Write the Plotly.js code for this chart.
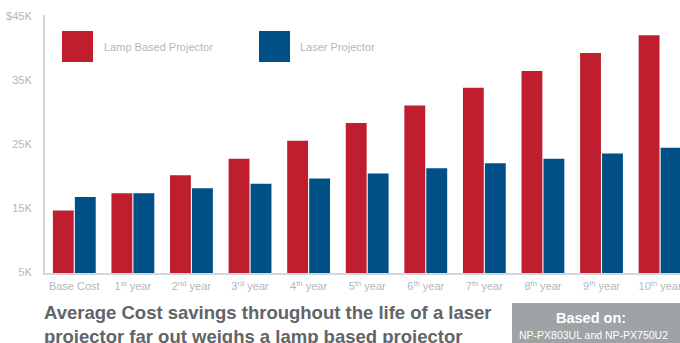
<!DOCTYPE html>
<html>
<head>
<meta charset="utf-8">
<script src="https://cdn.plot.ly/plotly-3.0.1.min.js"></script>
<style>html,body{margin:0;padding:0;background:#fff;}#chart{width:680px;height:343px;}</style>
</head>
<body>
<div id="chart"></div>
<script>
const categories = ['Base Cost','1st year','2nd year','3rd year','4th year','5th year','6th year','7th year','8th year','9th year','10th year'];
const tickLabels = ['Base Cost','1<sup>st</sup> year','2<sup>nd</sup> year','3<sup>rd</sup> year','4<sup>th</sup> year','5<sup>th</sup> year','6<sup>th</sup> year','7<sup>th</sup> year','8<sup>th</sup> year','9<sup>th</sup> year','10<sup>th</sup> year'];
const lampCost = [14600, 17300, 20100, 22700, 25500, 28300, 31000, 33800, 36400, 39200, 42000];
const laserCost = [16700, 17300, 18100, 18800, 19600, 20400, 21200, 22000, 22700, 23500, 24400];
const yTickVals = [5000, 15000, 25000, 35000, 45000];
const yTickText = ['5K', '15K', '25K', '35K', '$45K'];
const seriesNames = ['Lamp Based Projector', 'Laser Projector'];

const RED = '#be1e2d', BLUE = '#004f87', TICK = '#b3b7b9', AXIS = '#d3d8da';
const FONT = 'Liberation Sans, Arial, Helvetica, sans-serif';

// plot area in pixels
const L = 45, R = 680, T = 15, B = 273, W = 680, H = 343;
const px = x => (x - L) / (R - L);
const py = y => (B - y) / (B - T);
const PX_PER_K = 6.4;

const traces = [
  {type: 'bar', name: seriesNames[0], x: categories, y: lampCost, marker: {color: RED}, hoverinfo: 'x+y'},
  {type: 'bar', name: seriesNames[1], x: categories, y: laserCost, marker: {color: BLUE}, hoverinfo: 'x+y'}
];

const layout = {
  width: W, height: H,
  margin: {l: L, r: W - R, t: T, b: H - B, pad: 0},
  paper_bgcolor: '#fff', plot_bgcolor: '#fff',
  showlegend: false,
  barmode: 'group', bargap: 0.25, bargroupgap: 0.05,
  font: {family: FONT, color: TICK, size: 11},
  title: {
    text: 'Average Cost savings throughout the life of a laser<br>projector far out weighs a lamp based projector',
    font: {family: FONT, size: 18.5, color: '#5f6568', weight: 'bold'},
    x: 44 / W, xanchor: 'left', xref: 'container',
    y: 1 - 319 / H, yanchor: 'top', yref: 'container'
  },
  xaxis: {
    type: 'category',
    range: [-0.5, 10.34],
    tickvals: categories, ticktext: tickLabels,
    showline: true, linecolor: AXIS, linewidth: 2,
    ticks: 'outside', ticklen: 2, tickcolor: 'rgba(0,0,0,0)',
    showgrid: false, zeroline: false,
    tickfont: {family: FONT, size: 11, color: TICK}
  },
  yaxis: {
    range: [5000 - 1 * 1000 / PX_PER_K, 45000 + 1 * 1000 / PX_PER_K],
    tickvals: yTickVals, ticktext: yTickText,
    showline: true, linecolor: AXIS, linewidth: 2,
    ticks: 'outside', ticklen: 9, tickcolor: 'rgba(0,0,0,0)',
    showgrid: false, zeroline: false,
    tickfont: {family: FONT, size: 11, color: TICK}
  },
  shapes: [
    {type: 'rect', xref: 'paper', yref: 'paper', x0: px(62), x1: px(93), y0: py(62), y1: py(31), fillcolor: RED, line: {width: 0}},
    {type: 'rect', xref: 'paper', yref: 'paper', x0: px(259), x1: px(290), y0: py(62), y1: py(31), fillcolor: BLUE, line: {width: 0}},
    {type: 'rect', xref: 'paper', yref: 'paper', x0: px(512), x1: px(700), y0: py(360), y1: py(303), fillcolor: '#9ea3a5', line: {width: 0}, layer: 'above'}
  ],
  annotations: [
    {xref: 'paper', yref: 'paper', x: px(102), y: py(47), xanchor: 'left', yanchor: 'middle', showarrow: false, text: seriesNames[0], font: {family: FONT, size: 11, color: TICK}},
    {xref: 'paper', yref: 'paper', x: px(298), y: py(47), xanchor: 'left', yanchor: 'middle', showarrow: false, text: seriesNames[1], font: {family: FONT, size: 11, color: TICK}},
    {xref: 'paper', yref: 'paper', x: px(591), y: py(318), xanchor: 'center', yanchor: 'middle', showarrow: false, text: '<b>Based on:</b>', font: {family: FONT, size: 14.5, color: '#ffffff'}},
    {xref: 'paper', yref: 'paper', x: px(593), y: py(335), xanchor: 'center', yanchor: 'middle', showarrow: false, text: 'NP-PX803UL and NP-PX750U2', font: {family: FONT, size: 10.5, color: '#ffffff'}}
  ]
};

Plotly.newPlot('chart', traces, layout, {displayModeBar: false, staticPlot: true});
</script>
</body>
</html>
